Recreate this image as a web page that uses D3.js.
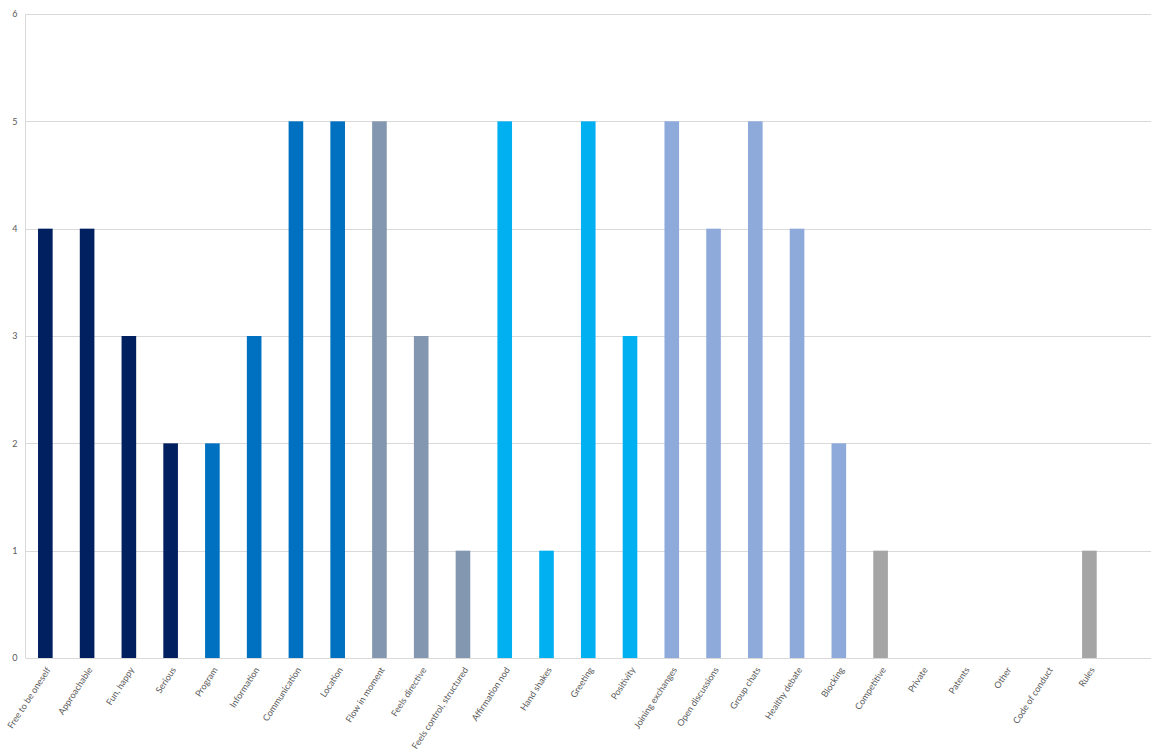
<!DOCTYPE html>
<html>
<head>
<meta charset="utf-8">
<script src="https://cdn.jsdelivr.net/npm/d3@7"></script>
<style>
  html, body { margin: 0; padding: 0; background: #ffffff; }
  svg { display: block; }
  text { font-family: Lato, "Open Sans", sans-serif; fill: #595959; }
</style>
</head>
<body>
<svg id="chart" width="1151" height="751"></svg>
<script>
// Category labels (the trailing blank slot is an empty row in the source table)
const categories = [
  "Free to be oneself", "Approachable", "Fun, happy", "Serious",
  "Program", "Information", "Communication", "Location",
  "Flow in moment", "Feels directive", "Feels control, structured",
  "Affirmation nod", "Hand shakes", "Greeting", "Positivity",
  "Joining exchanges", "Open discussions", "Group chats", "Healthy debate", "Blocking",
  "Competitive", "Private", "Patents", "Other", "Code of conduct", "Rules",
  ""
];
const values = [
  4, 4, 3, 2,
  2, 3, 5, 5,
  5, 3, 1,
  5, 1, 5, 3,
  5, 4, 5, 4, 2,
  1, 0, 0, 0, 0, 1,
  null
];
// Theme group of each category, used for the bar colour
const groups = [
  "a", "a", "a", "a",
  "b", "b", "b", "b",
  "c", "c", "c",
  "d", "d", "d", "d",
  "e", "e", "e", "e", "e",
  "f", "f", "f", "f", "f", "f",
  "f"
];
const groupNames = ["a", "b", "c", "d", "e", "f"];
const groupColors = ["#002060", "#0070c0", "#8497b0", "#00b0f0", "#8eaadb", "#a5a5a5"];
const yTicks = [0, 1, 2, 3, 4, 5, 6];

const rows = categories.map((c, i) => ({ cat: c, val: values[i], grp: groups[i], key: i }));

const svg = d3.select("#chart");
const margin = { left: 25.5, right: 0, top: 14, bottom: 93 };
const W = 1151, H = 751;

const x = d3.scaleBand()
  .domain(rows.map(d => d.key))
  .range([margin.left, W - margin.right])
  .paddingInner(0.65)
  .paddingOuter(0.3);

const y = d3.scaleLinear().domain([0, 6]).range([H - margin.bottom, margin.top]);
const color = d3.scaleOrdinal().domain(groupNames).range(groupColors);

// horizontal gridlines
svg.append("g")
  .selectAll("line")
  .data(yTicks)
  .join("line")
  .attr("x1", margin.left)
  .attr("x2", W - margin.right)
  .attr("y1", d => Math.round(y(d)) + 0.5)
  .attr("y2", d => Math.round(y(d)) + 0.5)
  .attr("stroke", "#d9d9d9")
  .attr("stroke-width", 1);

// vertical axis line
svg.append("line")
  .attr("x1", margin.left).attr("x2", margin.left)
  .attr("y1", y(6)).attr("y2", y(0))
  .attr("stroke", "#d9d9d9");

// y axis labels
const yAxis = d3.axisLeft(y).tickValues(yTicks).tickSize(0).tickPadding(8).tickFormat(d3.format("d"));
const yg = svg.append("g").attr("transform", `translate(${margin.left},0)`).call(yAxis);
yg.select(".domain").remove();
yg.selectAll("text").style("font-size", "9px").attr("fill", "#595959");

// bars
svg.append("g")
  .selectAll("rect")
  .data(rows.filter(d => d.val))
  .join("rect")
  .attr("x", d => x(d.key))
  .attr("width", x.bandwidth())
  .attr("y", d => y(d.val))
  .attr("height", d => y(0) - y(d.val))
  .attr("fill", d => color(d.grp));

// category labels, rotated
const xAxis = d3.axisBottom(x).tickSize(0).tickPadding(0).tickFormat(k => categories[k]);
const xg = svg.append("g").attr("transform", `translate(0,${y(0)})`).call(xAxis);
xg.select(".domain").remove();
xg.selectAll("text")
  .style("font-size", "9px")
  .attr("fill", "#595959")
  .attr("text-anchor", "end")
  .attr("dy", "0.35em")
  .attr("transform", "translate(3,10) rotate(-57)");
</script>
</body>
</html>
